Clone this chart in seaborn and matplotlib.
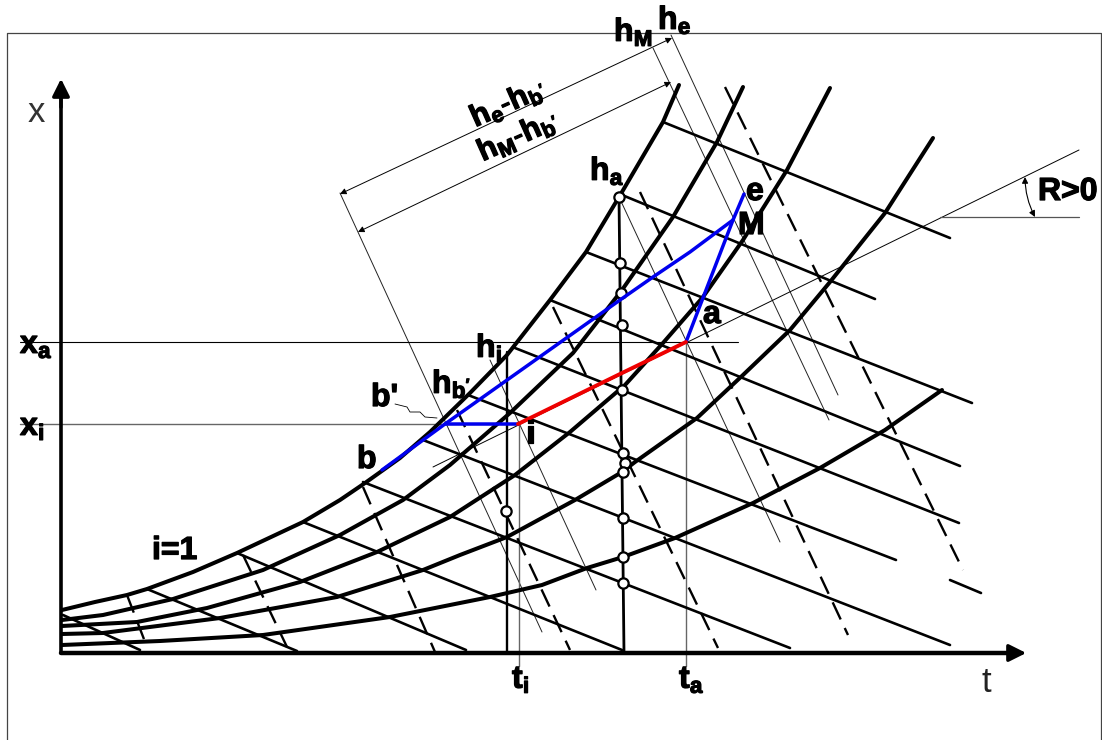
import matplotlib
matplotlib.use('Agg')
import matplotlib.pyplot as plt
import matplotlib.patheffects as pe
import seaborn as sns
import pandas as pd

sns.set_theme(style='white')
plt.rcParams['font.family'] = ['Liberation Sans', 'DejaVu Sans']
plt.rcParams['mathtext.fontset'] = 'custom'
plt.rcParams['mathtext.bf'] = 'Liberation Sans:bold'
plt.rcParams['mathtext.rm'] = 'Liberation Sans'

# thick curves, one per moisture level
curve_a_x = [62, 95, 127, 147, 193, 237, 303, 340, 365, 400, 430, 470, 507, 550, 586, 622, 663, 679]
curve_a_y = [610, 602, 595, 589, 572, 553, 522, 500, 483, 458, 432, 393, 355, 300, 252, 192, 122, 85]
curve_b_x = [62, 103, 173, 263, 340, 403, 450, 510, 573, 622, 673, 717, 743]
curve_b_y = [620, 615, 599, 570, 535, 500, 465, 413, 353, 290, 217, 142, 87]
curve_c_x = [62, 137, 207, 300, 377, 450, 515, 570, 625, 663, 703, 743, 787, 830]
curve_c_y = [626, 622, 608, 582, 552, 517, 475, 432, 385, 343, 297, 240, 170, 88]
curve_d_x = [62, 103, 220, 337, 423, 460, 507, 575, 622, 635, 697, 743, 790, 830, 885, 933]
curve_d_y = [634, 633, 618, 597, 570, 555, 537, 500, 472, 462, 418, 375, 330, 282, 213, 138]
curve_e_x = [62, 160, 263, 390, 460, 490, 542, 587, 623, 675, 753, 820, 885, 942]
curve_e_y = [645, 641, 635, 617, 603, 597, 585, 568, 557, 538, 503, 468, 430, 390]

# solid slanted lines, start and end
tie_x0 = [663, 622, 586, 550, 515, 468, 423, 363, 303, 237, 147, 63]
tie_y0 = [122, 195, 252, 300, 348, 395, 440, 482, 522, 553, 589, 615]
tie_x1 = [950, 875, 972, 960, 959, 896, 950, 790, 622, 466, 297, 140]
tie_y1 = [238, 299, 403, 466, 523, 560, 645, 648, 650, 650, 651, 650]

# dashed slanted lines
dash_x0 = [725, 640, 553, 457, 363, 243, 127]
dash_y0 = [87, 192, 307, 410, 487, 555, 595]
dash_x1 = [963, 848, 718, 570, 435, 287, 147]
dash_y1 = [570, 635, 648, 650, 652, 647, 647]

# thin enthalpy guide lines
guide_x0 = [340, 490, 619, 653, 671]
guide_y0 = [193, 360, 197, 48, 35]
guide_x1 = [542, 596, 780, 829, 838]
guide_y1 = [632, 590, 542, 420, 395]

circle_x = [619, 620, 621, 622, 622, 623, 625, 623, 623, 623, 623, 506]
circle_y = [197, 263, 293, 325, 390, 453, 463, 472, 518, 557, 583, 511]

# process lines
blue1_x = [382, 445, 518]
blue1_y = [470, 424, 424]
blue2_x = [445, 620, 653, 690, 733]
blue2_y = [424, 300, 277, 252, 220]
blue3_x = [744, 733, 686]
blue3_y = [194, 220, 342]
red_x = [518, 622, 686]
red_y = [424, 373, 342]

squiggle_x = [395, 407, 410, 420, 425, 437]
squiggle_y = [404, 407, 412, 412, 417, 418]

fig = plt.figure(figsize=(11.02, 7.40), dpi=100)
ax = fig.add_axes([0, 0, 1, 1])
ax.set_xlim(0, 1102)
ax.set_ylim(740, 0)
ax.axis('off')


def draw(xs, ys, color='black', lw=1.0, **kw):
    df = pd.DataFrame({'x': xs, 'y': ys})
    sns.lineplot(data=df, x='x', y='y', sort=False, estimator=None, color=color,
                 linewidth=lw, ax=ax, legend=False, **kw)


# frame round the picture, no bottom edge
draw([7, 7, 1101, 1101], [740, 33, 33, 740], color='#444444', lw=0.9)

# thin guides
for x0, y0, x1, y1 in zip(guide_x0, guide_y0, guide_x1, guide_y1):
    draw([x0, x1], [y0, y1], color='#222222', lw=0.7)
draw([20, 738], [342, 342], lw=0.8)
draw([20, 518], [424, 424], color='#666666', lw=1.0)
draw([519, 519], [424, 666], color='#666666', lw=1.0)
draw([686, 686], [342, 666], color='#666666', lw=1.0)
draw([433, 1079], [467, 150], lw=0.7)
draw([940, 1079], [217, 217], color='#555555', lw=0.9)
draw(squiggle_x, squiggle_y, lw=0.6)

# thick verticals
draw([507, 507], [352, 653], lw=1.7)
draw([619, 624], [197, 653], lw=2.0)

for x0, y0, x1, y1 in zip(tie_x0, tie_y0, tie_x1, tie_y1):
    draw([x0, x1], [y0, y1], lw=1.9)
draw([950, 981], [580, 593], lw=1.9)
for x0, y0, x1, y1 in zip(dash_x0, dash_y0, dash_x1, dash_y1):
    draw([x0, x1], [y0, y1], lw=1.7, dashes=(8, 4))
for cx, cy in [(curve_a_x, curve_a_y), (curve_b_x, curve_b_y), (curve_c_x, curve_c_y),
               (curve_d_x, curve_d_y), (curve_e_x, curve_e_y)]:
    draw(cx, cy, lw=2.9, solid_joinstyle='round')

sns.scatterplot(x=circle_x, y=circle_y, s=55, facecolor='white', edgecolor='black',
                linewidth=1.6, ax=ax, zorder=5)

# process path
draw(blue1_x, blue1_y, color='#0000ee', lw=2.5, zorder=6)
draw(blue2_x, blue2_y, color='#0000ee', lw=2.5, zorder=6)
draw(blue3_x, blue3_y, color='#0000ee', lw=2.5, zorder=6)
draw(red_x, red_y, color='#ee0000', lw=2.8, zorder=6)

# axes with arrows
draw([61, 61], [653, 90], lw=2.6)
draw([61, 1010], [653, 653], lw=3.2)
ax.annotate('', xy=(61, 76), xytext=(61, 110),
            arrowprops=dict(arrowstyle='-|>', color='black', lw=2.5, mutation_scale=26))
ax.annotate('', xy=(1029, 653), xytext=(995, 653),
            arrowprops=dict(arrowstyle='-|>', color='black', lw=2.5, mutation_scale=26))

# dimension arrows
thin = dict(arrowstyle='<|-|>', color='black', lw=0.7, mutation_scale=9, shrinkA=0, shrinkB=0)
ax.annotate('', xy=(672, 38), xytext=(340, 194), arrowprops=thin)
ax.annotate('', xy=(671, 82), xytext=(358, 232), arrowprops=thin)
ax.annotate('', xy=(1025, 177), xytext=(1035, 217),
            arrowprops=dict(arrowstyle='<|-|>', color='black', lw=0.8, mutation_scale=9,
                            shrinkA=0, shrinkB=0, connectionstyle='arc3,rad=-0.12'))

# labels
heavy = [pe.withStroke(linewidth=0.9, foreground='black')]
labels = [
    (20, 345, r'$\mathbf{x_a}$'), (20, 427, r'$\mathbf{x_i}$'),
    (476, 348, r'$\mathbf{h_i}$'), (432, 384, r"$\mathbf{h_{b'}}$"),
    (371, 398, "b'"), (357, 460, 'b'),
    (526, 435, 'i'), (703, 315, 'a'),
    (746, 192, 'e'), (738, 226, 'M'),
    (590, 171, r'$\mathbf{h_a}$'), (614, 32, r'$\mathbf{h_M}$'),
    (658, 20, r'$\mathbf{h_e}$'), (1038, 192, 'R>0'),
    (152, 551, 'i=1'), (512, 680, r'$\mathbf{t_i}$'),
    (679, 680, r'$\mathbf{t_a}$'),
]
for lx, ly, s in labels:
    ax.text(lx, ly, s, fontsize=23, color='black', fontweight='bold', ha='left', va='center',
            zorder=8, path_effects=heavy)

ax.text(36, 113, 'x', fontsize=25, color='#333333', ha='center', va='center')
ax.text(986, 682, 't', fontsize=25, color='#222222', ha='center', va='center')
ax.text(508, 103, r"$\mathbf{h_e\text{-}h_{b'}}$", fontsize=22, color='black', rotation=24,
        ha='center', va='center', path_effects=heavy)
ax.text(518, 136, r"$\mathbf{h_M\text{-}h_{b'}}$", fontsize=22, color='black', rotation=24,
        ha='center', va='center', path_effects=heavy)

fig.savefig('out.png', dpi=100)
